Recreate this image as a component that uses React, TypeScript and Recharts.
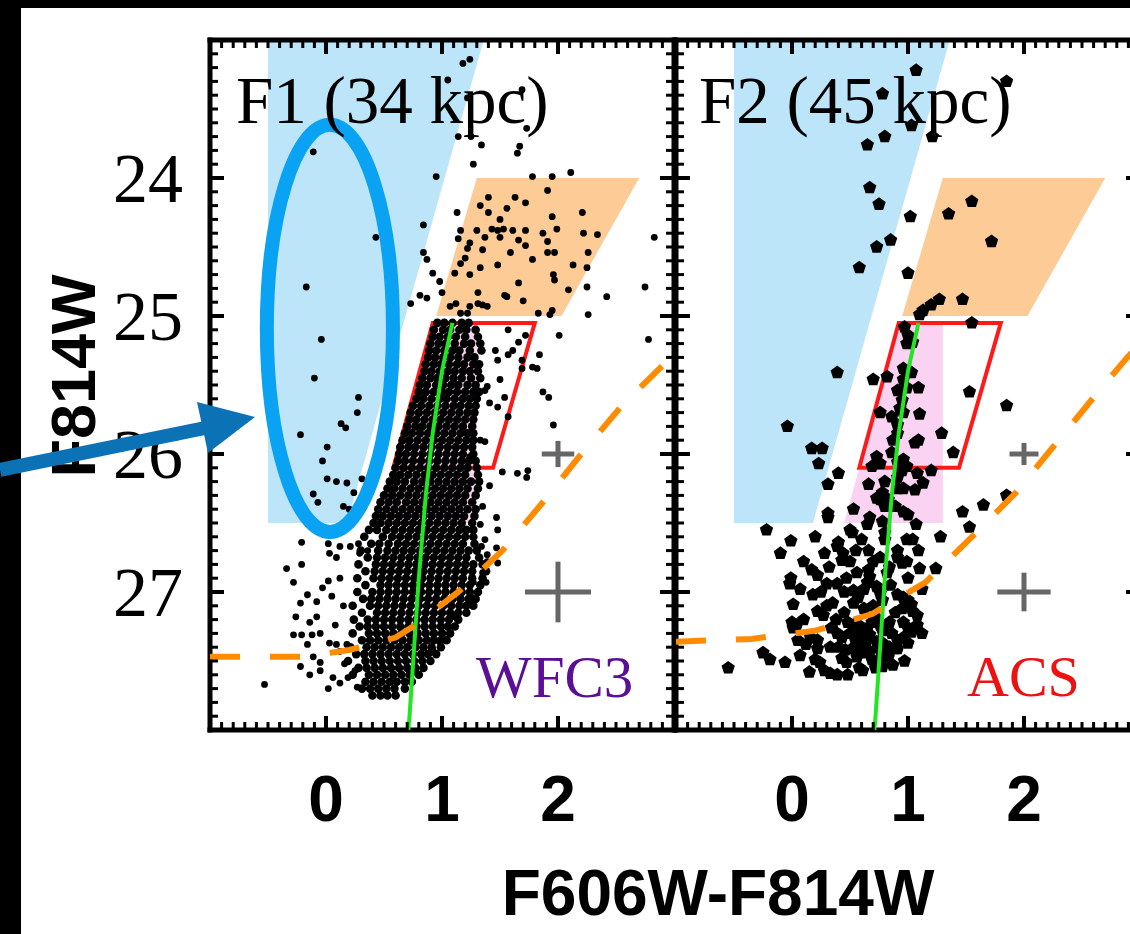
import React from 'react';
import { ScatterChart, Scatter, XAxis, YAxis, ReferenceArea, ErrorBar } from 'recharts';

type P = [number, number];

// ---------- axes ----------
const X_DOMAIN: [number, number] = [-1, 3];
const Y_DOMAIN: [number, number] = [23, 28];
const X_MAJOR = [0, 1, 2];
const X_TICK_LABELS = ['0', '1', '2'];
const Y_MAJOR = [24, 25, 26, 27];
const Y_TICK_LABELS = ['24', '25', '26', '27'];
const MINOR_STEP = 0.1;
const X_TICKS = Array.from({ length: 41 }, (_, i) => Math.round((X_DOMAIN[0] + i * MINOR_STEP) * 10) / 10);
const Y_TICKS = Array.from({ length: 51 }, (_, i) => Math.round((Y_DOMAIN[0] + i * MINOR_STEP) * 10) / 10);

const PANEL_TITLES = ['F1 (34 kpc)', 'F2 (45 kpc)'];
const CAMERAS = ['WFC3', 'ACS'];
const X_TITLE = 'F606W-F814W';
const Y_TITLE = 'F814W';

// ---------- selection regions (colour, magnitude) ----------
const blueRegion: P[] = [[-0.5, 23], [1.36, 23], [0.18, 26.5], [-0.5, 26.5]];
const orangeRegion: P[] = [[1.3, 24], [2.7, 24], [2.03, 25], [0.95, 25]];
const pinkRegion: P[] = [[0.92, 25.05], [1.3, 25.05], [1.3, 26.5], [0.45, 26.5]];
const redBox: P[] = [[0.92, 25.05], [1.8, 25.05], [1.44, 26.1], [0.58, 26.1]];
const ellipseBox: P[] = [[-0.51, 23.615], [0.577, 26.565]];

// fiducial isochrone (green)
const isochrone: P[] = [[1.09, 25.05], [1.0, 25.4], [0.92, 25.85], [0.86, 26.3], [0.8, 26.9], [0.76, 27.4], [0.72, 27.9], [0.71, 28.0]];

// completeness limits (orange dashed)
const completenessF1: P[] = [[-1, 27.47], [-0.2, 27.47], [0.2, 27.42], [0.6, 27.33], [0.75, 27.25], [1.14, 27.0], [1.52, 26.7], [1.87, 26.35], [2.2, 26.0], [2.55, 25.65], [2.9, 25.36], [3.0, 25.27]];
const completenessF2: P[] = [[-1, 27.36], [-0.35, 27.34], [0.2, 27.28], [0.69, 27.16], [1.15, 26.93], [1.54, 26.61], [1.93, 26.28], [2.26, 25.94], [2.6, 25.59], [2.89, 25.3], [3.0, 25.2]];

// typical photometric errors [colour, mag, colourErr, magErr]
const errorsF1 = [[2, 26, 0.14, 0.095], [2, 27, 0.285, 0.22]];
const errorsF2 = [[2, 26, 0.125, 0.08], [2, 27, 0.23, 0.14]];

// ---------- F1 stars ----------
const f1Sparse: P[] = [
  [-0.11, 23.81], [0.43, 24.43], [-0.17, 24.79], [1.18, 23.17], [1.24, 23.14], [1.05, 23.29], [1.22, 23.42], [1.69, 23.36],
  [1.73, 23.64], [1.14, 23.7], [1.25, 23.7], [1.34, 23.76], [1.67, 23.77], [1.65, 23.82], [1.27, 23.9], [0.95, 23.99],
  [1.78, 23.99], [1.95, 23.99], [2.11, 23.96], [1.91, 24.09], [1.4, 24.14], [1.63, 24.14], [1.72, 24.18], [1.33, 24.2],
  [1.13, 24.25], [1.4, 24.25], [1.56, 24.22], [2.21, 24.25], [1.95, 24.28], [0.84, 24.34], [1.5, 24.3], [1.16, 24.38],
  [1.3, 24.38], [1.43, 24.37], [1.48, 24.38], [1.53, 24.37], [1.61, 24.38], [1.72, 24.38], [1.87, 24.4], [1.99, 24.37],
  [2.22, 24.4], [2.34, 24.41], [2.83, 24.43], [1.14, 24.44], [1.24, 24.47], [1.37, 24.43], [1.5, 24.43], [1.66, 24.45],
  [1.72, 24.49], [1.91, 24.46], [1.22, 24.51], [1.35, 24.52], [1.59, 24.54], [1.91, 24.54], [1.97, 24.54], [2.26, 24.54],
  [0.84, 24.54], [0.87, 24.59], [1.2, 24.58], [1.78, 24.59], [2.13, 24.63], [1.16, 24.62], [1.33, 24.65], [1.48, 24.63],
  [2.25, 24.65], [0.92, 24.69], [1.11, 24.69], [1.24, 24.7], [1.96, 24.7], [1.97, 24.74], [2.75, 24.79], [0.98, 24.75],
  [1.66, 24.76], [2.09, 24.81], [2.42, 24.86], [0.81, 24.85], [1.0, 24.83], [1.31, 24.83], [1.54, 24.85], [1.56, 24.86],
  [2.25, 24.79], [0.73, 24.91], [0.87, 24.87], [1.12, 24.91], [1.22, 24.98], [1.24, 24.93], [1.31, 24.91], [1.35, 24.92],
  [1.7, 24.89], [1.83, 24.98], [1.95, 24.96], [1.93, 24.99], [2.26, 24.99], [1.07, 24.93], [1.16, 24.98], [1.39, 24.93],
  [2.01, 25.14], [2.78, 25.17], [1.84, 25.28], [1.82, 25.38], [1.87, 25.55], [1.92, 25.59], [1.96, 25.79], [1.52, 26.13],
  [1.65, 26.14], [1.73, 26.17], [1.74, 26.12], [1.41, 26.23], [1.47, 26.46], [1.48, 26.55], [1.48, 26.79], [1.35, 26.38],
  [1.37, 26.62], [1.39, 26.73], [1.33, 26.51], [1.34, 26.67], [1.57, 25.1], [1.66, 25.19], [1.72, 25.14], [1.46, 25.25],
  [1.48, 25.32], [1.57, 25.28], [1.61, 25.25], [1.69, 25.32], [1.78, 25.37], [1.69, 25.38], [1.5, 25.46], [1.39, 25.51],
  [1.37, 25.54], [1.54, 25.59], [1.41, 25.63], [1.48, 25.66], [1.57, 25.73], [1.33, 25.9], [1.37, 25.91], [1.24, 26.02],
  [1.47, 26.68], [1.39, 26.78], [1.35, 26.86], [1.38, 26.93], [1.27, 26.93], [1.26, 27.04], [1.24, 27.08], [1.09, 27.18],
  [0.98, 27.36], [0.92, 27.42], [0.77, 27.58],
  [-0.04, 25.17], [-0.1, 25.45], [0.28, 25.59], [0.27, 25.7], [0.13, 25.78], [0.17, 25.81], [-0.22, 25.86], [0.01, 25.95],
  [-0.03, 26.05], [0.01, 26.18], [0.09, 26.2], [0.18, 26.21], [0.31, 26.18], [-0.11, 26.29], [0.24, 26.28], [-0.07, 26.35],
  [0.15, 26.38], [0.2, 26.4], [-0.21, 26.64], [-0.34, 26.83], [-0.21, 26.8], [-0.28, 26.93], [0.02, 26.65], [0.12, 26.67],
  [0.03, 26.72], [0.09, 26.75], [0.21, 26.67], [0.28, 26.65], [0.29, 26.72], [0.36, 26.7], [-0.16, 27.02], [-0.22, 27.08],
  [-0.08, 27.07], [0.02, 26.92], [0.12, 26.9], [-0.03, 26.97], [-0.26, 27.18], [-0.08, 27.18], [-0.14, 27.22], [-0.28, 27.31],
  [-0.21, 27.31], [-0.12, 27.31], [-0.05, 27.3], [-0.16, 27.38], [0.03, 27.37], [0.09, 27.38], [0.12, 27.43], [0.18, 27.38],
  [-0.22, 27.54], [-0.11, 27.47], [-0.05, 27.51], [-0.14, 27.6], [-0.05, 27.57], [0.06, 27.62], [0.02, 27.7], [0.12, 27.66],
  [0.19, 27.62], [-0.53, 27.67], [0.25, 27.57], [0.27, 27.69], [0.15, 27.1], [0.08, 27.24], [0.16, 27.52], [0.05, 27.03],
];

// dense red-giant branch of F1: [magnitude, colours along that row]
const f1Rows: [number, number[]][] = [
  [25.05, [0.96, 1.02, 1.09, 1.17, 1.23]],
  [25.1, [0.93, 1.01, 1.07, 1.15, 1.21, 1.29]],
  [25.15, [0.92, 0.98, 1.05, 1.12, 1.2, 1.31]],
  [25.2, [0.9, 0.97, 1.03, 1.11, 1.19, 1.25, 1.33]],
  [25.25, [0.89, 0.95, 1.02, 1.09, 1.15, 1.24, 1.34]],
  [25.3, [0.88, 0.94, 1.01, 1.07, 1.14, 1.22, 1.28]],
  [25.35, [0.86, 0.93, 0.99, 1.06, 1.13, 1.19, 1.27, 1.32]],
  [25.4, [0.85, 0.91, 0.98, 1.05, 1.11, 1.18, 1.24, 1.31]],
  [25.45, [0.83, 0.9, 0.96, 1.03, 1.1, 1.17, 1.25, 1.33]],
  [25.5, [0.81, 0.87, 0.95, 1.01, 1.08, 1.14, 1.22, 1.29]],
  [25.55, [0.8, 0.86, 0.93, 1.0, 1.06, 1.13, 1.2, 1.27, 1.32]],
  [25.6, [0.78, 0.84, 0.91, 0.98, 1.04, 1.11, 1.18, 1.24, 1.3]],
  [25.65, [0.75, 0.82, 0.89, 0.96, 1.03, 1.1, 1.16, 1.23, 1.29]],
  [25.7, [0.73, 0.8, 0.87, 0.94, 1.01, 1.08, 1.15, 1.22, 1.28]],
  [25.75, [0.72, 0.78, 0.85, 0.92, 0.99, 1.06, 1.13, 1.2, 1.27]],
  [25.8, [0.7, 0.77, 0.83, 0.9, 0.97, 1.04, 1.11, 1.18, 1.26]],
  [25.85, [0.68, 0.74, 0.81, 0.88, 0.95, 1.02, 1.09, 1.16, 1.22, 1.27]],
  [25.9, [0.66, 0.72, 0.79, 0.86, 0.93, 1.0, 1.07, 1.14, 1.21, 1.27]],
  [25.95, [0.64, 0.71, 0.77, 0.84, 0.91, 0.98, 1.05, 1.12, 1.19, 1.26]],
  [26.0, [0.63, 0.69, 0.76, 0.83, 0.9, 0.97, 1.04, 1.11, 1.18, 1.27]],
  [26.05, [0.62, 0.68, 0.75, 0.82, 0.89, 0.96, 1.03, 1.1, 1.17, 1.23, 1.29]],
  [26.1, [0.6, 0.67, 0.74, 0.81, 0.88, 0.95, 1.02, 1.09, 1.16, 1.22, 1.3]],
  [26.15, [0.58, 0.64, 0.71, 0.78, 0.85, 0.92, 0.99, 1.06, 1.13, 1.2, 1.31]],
  [26.2, [0.55, 0.61, 0.68, 0.76, 0.83, 0.9, 0.97, 1.04, 1.11, 1.18, 1.25, 1.32]],
  [26.25, [0.53, 0.59, 0.66, 0.73, 0.8, 0.87, 0.94, 1.01, 1.08, 1.15, 1.22, 1.31]],
  [26.3, [0.5, 0.57, 0.64, 0.71, 0.78, 0.85, 0.92, 0.99, 1.06, 1.13, 1.2, 1.29]],
  [26.35, [0.47, 0.54, 0.61, 0.69, 0.76, 0.83, 0.9, 0.97, 1.04, 1.11, 1.18, 1.26]],
  [26.4, [0.45, 0.52, 0.59, 0.66, 0.73, 0.8, 0.87, 0.94, 1.01, 1.08, 1.15, 1.22, 1.29]],
  [26.45, [0.43, 0.49, 0.56, 0.63, 0.7, 0.77, 0.84, 0.91, 0.98, 1.05, 1.12, 1.19, 1.28]],
  [26.5, [0.41, 0.47, 0.54, 0.61, 0.68, 0.75, 0.82, 0.89, 0.96, 1.03, 1.1, 1.17, 1.26]],
  [26.55, [0.37, 0.44, 0.52, 0.59, 0.66, 0.73, 0.8, 0.87, 0.94, 1.01, 1.08, 1.15, 1.21, 1.27]],
  [26.6, [0.33, 0.49, 0.57, 0.64, 0.71, 0.78, 0.85, 0.92, 0.99, 1.06, 1.13, 1.2, 1.27]],
  [26.65, [0.39, 0.46, 0.54, 0.62, 0.69, 0.76, 0.83, 0.9, 0.97, 1.04, 1.11, 1.18, 1.28]],
  [26.7, [0.3, 0.45, 0.53, 0.6, 0.67, 0.74, 0.81, 0.88, 0.95, 1.02, 1.09, 1.16, 1.23, 1.3]],
  [26.75, [0.36, 0.44, 0.51, 0.58, 0.65, 0.72, 0.79, 0.86, 0.93, 1.0, 1.07, 1.14, 1.21, 1.32]],
  [26.8, [0.28, 0.43, 0.5, 0.57, 0.64, 0.71, 0.78, 0.85, 0.92, 0.99, 1.06, 1.13, 1.2, 1.27, 1.35]],
  [26.85, [0.34, 0.42, 0.49, 0.56, 0.63, 0.7, 0.77, 0.84, 0.91, 0.98, 1.05, 1.12, 1.19, 1.26, 1.38]],
  [26.9, [0.27, 0.41, 0.48, 0.55, 0.62, 0.69, 0.76, 0.83, 0.9, 0.97, 1.04, 1.11, 1.18, 1.26, 1.35]],
  [26.95, [0.34, 0.47, 0.54, 0.61, 0.68, 0.75, 0.82, 0.89, 0.96, 1.03, 1.1, 1.17, 1.24, 1.33]],
  [27.0, [0.27, 0.4, 0.47, 0.54, 0.61, 0.68, 0.75, 0.82, 0.89, 0.96, 1.03, 1.1, 1.17, 1.24, 1.31]],
  [27.05, [0.32, 0.39, 0.46, 0.53, 0.6, 0.67, 0.74, 0.81, 0.88, 0.95, 1.02, 1.09, 1.16, 1.23, 1.29]],
  [27.1, [0.23, 0.38, 0.45, 0.52, 0.59, 0.66, 0.73, 0.8, 0.87, 0.94, 1.01, 1.08, 1.15, 1.21, 1.27]],
  [27.15, [0.31, 0.44, 0.51, 0.58, 0.65, 0.72, 0.79, 0.86, 0.93, 1.0, 1.07, 1.14, 1.21]],
  [27.2, [0.24, 0.36, 0.43, 0.5, 0.57, 0.64, 0.71, 0.78, 0.85, 0.92, 0.99, 1.06, 1.14]],
  [27.25, [0.29, 0.36, 0.43, 0.5, 0.57, 0.64, 0.71, 0.78, 0.85, 0.92, 0.99, 1.05, 1.11]],
  [27.3, [0.23, 0.37, 0.44, 0.51, 0.58, 0.65, 0.72, 0.79, 0.86, 0.93, 1.0, 1.07]],
  [27.35, [0.31, 0.38, 0.45, 0.52, 0.59, 0.66, 0.73, 0.8, 0.87, 0.93, 0.99, 1.04]],
  [27.4, [0.21, 0.35, 0.42, 0.49, 0.56, 0.63, 0.7, 0.77, 0.84, 0.91, 0.99]],
  [27.45, [0.26, 0.33, 0.4, 0.47, 0.54, 0.61, 0.68, 0.75, 0.82, 0.88, 0.95]],
  [27.5, [0.19, 0.34, 0.41, 0.48, 0.55, 0.62, 0.69, 0.76, 0.83, 0.9]],
  [27.55, [0.28, 0.35, 0.42, 0.49, 0.56, 0.63, 0.7, 0.77, 0.84]],
  [27.6, [0.23, 0.37, 0.44, 0.51, 0.58, 0.65, 0.72, 0.8]],
  [27.65, [0.34, 0.41, 0.48, 0.55, 0.61, 0.68, 0.74]],
  [27.7, [0.31, 0.38, 0.45, 0.52, 0.59, 0.68]],
  [27.75, [0.4, 0.47, 0.53, 0.6]],
];

// ---------- F2 stars ----------
const f2Points: P[] = [
  [1.07, 23.22], [0.78, 23.39], [1.03, 23.62], [1.85, 23.3], [0.8, 23.7], [0.65, 23.76], [1.21, 23.7], [0.67, 24.07],
  [0.75, 24.19], [1.02, 24.28], [1.35, 24.26], [1.55, 24.17], [0.85, 24.45], [0.73, 24.5], [1.72, 24.46], [0.58, 24.65],
  [1.0, 24.69], [1.27, 24.88], [1.47, 24.88], [1.13, 24.96], [1.1, 24.99], [1.2, 24.92],
  [0.97, 25.08], [1.0, 25.14], [0.99, 25.2], [1.04, 25.19], [1.55, 25.05],
  [0.39, 25.41], [0.7, 25.46], [0.82, 25.44], [0.96, 25.38], [1.03, 25.41], [0.96, 25.46], [0.99, 25.52], [0.91, 25.54],
  [0.95, 25.61], [0.93, 25.67], [0.96, 25.7], [1.09, 25.52], [1.53, 25.55], [1.85, 25.65], [0.76, 25.7], [0.86, 25.73],
  [1.1, 25.71], [-0.04, 25.8], [0.91, 25.79], [0.91, 25.85], [0.87, 25.9], [1.29, 25.85], [1.06, 25.92], [1.09, 25.9],
  [0.17, 25.96], [0.26, 25.96], [0.23, 26.07], [0.86, 25.99], [1.39, 25.99], [0.73, 26.02], [0.76, 26.07], [0.91, 26.06],
  [0.96, 26.04], [0.99, 26.09], [0.95, 26.12], [0.91, 26.17], [0.69, 26.09], [1.08, 26.14], [1.2, 26.12], [0.4, 26.14],
  [0.31, 26.22], [0.66, 26.22], [0.8, 26.2], [0.91, 26.25], [0.96, 26.25], [1.06, 26.26], [1.13, 26.21], [0.78, 26.28],
  [0.76, 26.33], [0.73, 26.32], [0.83, 26.33], [0.8, 26.38], [0.89, 26.38], [0.96, 26.42], [1.0, 26.44], [0.53, 26.4],
  [0.31, 26.43], [0.31, 26.46], [0.67, 26.46], [0.65, 26.51], [0.78, 26.49], [0.8, 26.57], [1.07, 26.51], [0.5, 26.55],
  [0.52, 26.57], [-0.22, 26.55], [1.28, 26.6], [1.47, 26.42], [1.53, 26.53], [1.65, 26.37], [1.85, 26.3], [-0.01, 26.63],
  [-0.1, 26.72], [0.39, 26.67], [0.44, 26.72], [0.43, 26.77], [0.4, 26.64], [0.66, 26.7], [0.76, 26.75], [0.91, 26.7],
  [0.99, 26.62], [1.04, 26.62], [1.09, 26.7], [0.91, 26.75], [0.99, 26.78], [0.95, 26.79], [0.56, 26.86], [0.66, 26.84],
  [0.67, 26.89], [0.65, 26.93], [0.17, 26.84], [0.22, 26.88], [0.84, 26.82], [0.82, 26.86], [1.1, 26.83], [1.24, 26.83],
  [-0.01, 26.9], [-0.02, 26.94], [0.3, 26.94], [0.39, 26.94], [0.53, 26.99], [0.57, 27.04], [0.53, 27.08], [0.18, 27.02],
  [0.35, 27.08], [0.73, 26.96], [0.76, 27.01], [0.78, 27.06], [0.91, 27.02], [0.96, 27.04], [1.0, 27.06], [1.03, 27.09],
  [1.04, 27.14], [1.08, 27.17], [0.01, 27.09], [0.22, 27.14], [0.27, 27.17], [0.0, 27.22], [0.01, 27.26], [0.04, 27.24],
  [0.48, 27.22], [0.53, 27.24], [0.59, 27.25], [0.65, 27.26], [0.73, 27.19], [0.76, 27.24], [0.78, 27.28], [0.84, 27.22],
  [0.89, 27.15], [0.96, 27.22], [1.0, 27.26], [1.03, 27.29], [1.08, 27.24], [0.34, 27.26], [0.39, 27.3], [0.43, 27.33],
  [0.16, 27.33], [0.22, 27.35], [0.5, 27.3], [0.54, 27.33], [0.61, 27.31], [0.67, 27.31], [0.73, 27.36], [0.78, 27.37],
  [0.84, 27.4], [0.91, 27.41], [0.96, 27.33], [0.91, 27.35], [1.0, 27.37], [0.33, 27.4], [0.4, 27.4], [0.46, 27.42],
  [0.52, 27.41], [0.61, 27.41], [0.67, 27.43], [0.76, 27.42], [0.22, 27.41], [0.2, 27.49], [0.24, 27.51], [-0.25, 27.44],
  [-0.19, 27.49], [-0.06, 27.51], [0.07, 27.46], [0.43, 27.48], [0.47, 27.51], [0.56, 27.47], [0.6, 27.44], [0.76, 27.49],
  [0.78, 27.54], [0.87, 27.53], [0.89, 27.41], [0.28, 27.57], [0.39, 27.6], [0.33, 27.59], [0.61, 27.57], [0.72, 27.55],
  [-0.55, 27.55], [0.62, 27.12], [0.7, 27.1], [0.45, 27.15], [0.85, 26.95], [0.6, 26.62], [0.56, 27.36], [0.69, 27.49],
  [0.1, 27.2], [0.12, 27.38], [0.3, 27.1], [0.45, 27.0], [0.62, 26.98], [0.7, 26.78], [0.5, 26.78], [0.28, 26.72],
  [0.2, 26.6], [1.0, 26.9], [1.12, 26.98], [0.95, 27.12], [0.86, 27.3], [0.69, 27.22], [0.38, 27.2], [0.58, 27.55],
  [0.48, 27.6], [0.15, 27.58], [0.05, 27.35], [0.8, 26.62], [0.55, 26.7], [0.1, 26.78], [0.83, 27.47], [0.97, 27.5],
  [1.12, 27.3], [0.32, 26.82], [0.47, 26.9], [0.25, 27.0], [0.07, 26.98], [0.64, 27.36],
];

// ---------- helpers ----------
const toObj = (pts: P[]) => pts.map(([c, m]) => ({ c, m }));
const f1SparseData = toObj(f1Sparse);
const f1CoreData = f1Rows.flatMap(([m, cs]) => cs.map((c) => ({ c, m })));
const f2Data = toObj(f2Points);

const SERIF = "'Liberation Serif', 'Times New Roman', Times, serif";
const SANS = "'Liberation Sans', Arial, Helvetica, sans-serif";

const bbox = (verts: P[]) => {
  const cs = verts.map((v) => v[0]);
  const ms = verts.map((v) => v[1]);
  return [Math.min(...cs), Math.max(...cs), Math.min(...ms), Math.max(...ms)];
};

const polyShape = (verts: P[], style: any) => {
  const [c1, c2, m1, m2] = bbox(verts);
  return (p: any) => {
    const pts = verts
      .map(([c, m]) => {
        const px = p.x + ((c - c1) / (c2 - c1)) * p.width;
        const py = p.y + ((m - m1) / (m2 - m1)) * p.height;
        return `${px},${py}`;
      })
      .join(' ');
    return <polygon points={pts} {...style} />;
  };
};

const ellipseShape = (p: any) => (
  <ellipse
    cx={p.x + p.width / 2}
    cy={p.y + p.height / 2}
    rx={p.width / 2}
    ry={p.height / 2}
    fill="none"
    stroke="#0aa2f2"
    strokeWidth={14}
  />
);

const Empty = () => <g />;
const DotShape = (p: any) => <circle cx={p.cx} cy={p.cy} r={3.4} fill="#000" />;
const CoreDotShape = (p: any) => <circle cx={p.cx} cy={p.cy} r={4.3} fill="#000" />;
const PENT = [0, 1, 2, 3, 4].map((k) => {
  const a = -Math.PI / 2 + (k * 2 * Math.PI) / 5;
  return [Math.cos(a), Math.sin(a)];
});
const PentShape = (p: any) => (
  <polygon points={PENT.map(([dx, dy]) => `${p.cx + dx * 7},${p.cy + dy * 7}`).join(' ')} fill="#000" />
);

type Side = 'bottom' | 'top' | 'left' | 'right';
const makeTick = (side: Side, withLabels: boolean) => (props: any) => {
  const { x, y, payload } = props;
  const v = Number(payload.value);
  const major = Math.abs(v - Math.round(v)) < 1e-6;
  const len = major ? 14 : 8;
  let x2 = x;
  let y2 = y;
  if (side === 'bottom') y2 = y - len;
  if (side === 'top') y2 = y + len;
  if (side === 'left') x2 = x + len;
  if (side === 'right') x2 = x - len;
  let label: any = null;
  if (withLabels && major) {
    if (side === 'bottom') {
      const i = X_MAJOR.indexOf(Math.round(v));
      if (i >= 0)
        label = (
          <text x={x} y={y + 91} textAnchor="middle" fontFamily={SANS} fontWeight="bold" fontSize={64} fill="#000">
            {X_TICK_LABELS[i]}
          </text>
        );
    } else if (side === 'left') {
      const i = Y_MAJOR.indexOf(Math.round(v));
      if (i >= 0)
        label = (
          <text x={x - 27} y={y + 24} textAnchor="end" fontFamily={SERIF} fontSize={70} fill="#000">
            {Y_TICK_LABELS[i]}
          </text>
        );
    }
  }
  return (
    <g>
      <line x1={x} y1={y} x2={x2} y2={y2} stroke="#000" strokeWidth={major ? 4 : 3} />
      {label}
    </g>
  );
};

const AXIS_LINE = { stroke: '#000', strokeWidth: 5, strokeLinecap: 'square' };

type PanelProps = {
  plotLeft: number;
  layers: { data: { c: number; m: number }[]; shape: any }[];
  completeness: P[];
  errors: number[][];
  showYLabels: boolean;
  showEllipse: boolean;
};

const PLOT_TOP = 40;
const PLOT_BOTTOM = 730;
const PLOT_WIDTH = 464;
const SVG_H = 934;
const AXIS_SIZE = 1;

function Panel({ plotLeft, layers, completeness, errors, showYLabels, showEllipse }: PanelProps) {
  const W = plotLeft + PLOT_WIDTH + 30;
  const common = { xAxisId: 'b', yAxisId: 'l' };
  const region = (verts: P[], style: any, z: number) => {
    const [c1, c2, m1, m2] = bbox(verts);
    return (
      <ReferenceArea
        {...common}
        x1={c1}
        x2={c2}
        y1={m1}
        y2={m2}
        ifOverflow="visible"
        shape={polyShape(verts, style)}
        zIndex={z}
      />
    );
  };
  const errData = errors.map(([c, m, ec, em]) => ({ c, m, ec, em }));
  const axisCommon = {
    type: 'number' as const,
    allowDataOverflow: true,
    interval: 0 as const,
    tickSize: 0,
    tickMargin: 0,
    tickLine: false,
    axisLine: AXIS_LINE,
  };
  return (
    <div style={{ position: 'absolute', left: 0, top: 0 }}>
      <ScatterChart
        width={W}
        height={SVG_H}
        margin={{
          top: PLOT_TOP - AXIS_SIZE,
          left: plotLeft - AXIS_SIZE,
          right: 30 - AXIS_SIZE,
          bottom: SVG_H - PLOT_BOTTOM - AXIS_SIZE,
        }}
      >
        <XAxis
          {...axisCommon}
          xAxisId="b"
          dataKey="c"
          orientation="bottom"
          domain={X_DOMAIN}
          ticks={X_TICKS}
          height={AXIS_SIZE}
          tick={makeTick('bottom', true)}
        />
        <XAxis
          {...axisCommon}
          xAxisId="t"
          dataKey="c"
          orientation="top"
          domain={X_DOMAIN}
          ticks={X_TICKS}
          height={AXIS_SIZE}
          tick={makeTick('top', false)}
        />
        <YAxis
          {...axisCommon}
          yAxisId="l"
          dataKey="m"
          orientation="left"
          domain={Y_DOMAIN}
          reversed
          ticks={Y_TICKS}
          width={AXIS_SIZE}
          tick={makeTick('left', showYLabels)}
        />
        <YAxis
          {...axisCommon}
          yAxisId="r"
          dataKey="m"
          orientation="right"
          domain={Y_DOMAIN}
          reversed
          ticks={Y_TICKS}
          width={AXIS_SIZE}
          tick={makeTick('right', false)}
        />
        <Scatter xAxisId="t" yAxisId="r" data={[{ c: 0, m: 25 }]} shape={Empty} isAnimationActive={false} />
        {region(blueRegion, { fill: '#bde5fa' }, 1)}
        {region(orangeRegion, { fill: '#fdcb95' }, 2)}
        {region(pinkRegion, { fill: '#fad3f2' }, 3)}
        {region(redBox, { fill: 'none', stroke: '#ff1a1a', strokeWidth: 4 }, 4)}
        {layers.map((l, i) => (
          <Scatter key={i} {...common} data={l.data} shape={l.shape} isAnimationActive={false} zIndex={600} />
        ))}
        <Scatter
          {...common}
          data={toObj(isochrone)}
          line={{ stroke: '#22e622', strokeWidth: 4 }}
          lineType="joint"
          shape={Empty}
          isAnimationActive={false}
          zIndex={610}
        />
        <Scatter
          {...common}
          data={toObj(completeness)}
          line={{ stroke: '#ff8c00', strokeWidth: 6, strokeDasharray: '30 30' }}
          lineType="joint"
          shape={Empty}
          isAnimationActive={false}
          zIndex={620}
        />
        <Scatter {...common} data={errData} shape={Empty} isAnimationActive={false} zIndex={630}>
          <ErrorBar dataKey="ec" direction="x" width={0} stroke="#666" strokeWidth={5} />
          <ErrorBar dataKey="em" direction="y" width={0} stroke="#666" strokeWidth={5} />
        </Scatter>
        {showEllipse && (
          <ReferenceArea
            {...common}
            x1={ellipseBox[0][0]}
            x2={ellipseBox[1][0]}
            y1={ellipseBox[0][1]}
            y2={ellipseBox[1][1]}
            ifOverflow="visible"
            shape={ellipseShape}
            zIndex={700}
          />
        )}
      </ScatterChart>
    </div>
  );
}

export default function App() {
  return (
    <div
      style={{
        position: 'absolute',
        left: 0,
        top: 0,
        width: 1130,
        height: 934,
        overflow: 'hidden',
        background: '#fff',
      }}
    >
      <Panel
        plotLeft={210}
        layers={[
          { data: f1CoreData, shape: CoreDotShape },
          { data: f1SparseData, shape: DotShape },
        ]}
        completeness={completenessF1}
        errors={errorsF1}
        showYLabels={true}
        showEllipse={true}
      />
      <Panel
        plotLeft={676}
        layers={[{ data: f2Data, shape: PentShape }]}
        completeness={completenessF2}
        errors={errorsF2}
        showYLabels={false}
        showEllipse={false}
      />
      <svg
        width={1130}
        height={934}
        style={{ position: 'absolute', left: 0, top: 0, pointerEvents: 'none' }}
      >
        <rect x={0} y={0} width={1130} height={8} fill="#000" />
        <rect x={0} y={0} width={21} height={934} fill="#000" />
        <text x={236} y={123} fontFamily={SERIF} fontSize={67} fill="#000">
          {PANEL_TITLES[0]}
        </text>
        <text x={699} y={123} fontFamily={SERIF} fontSize={67} fill="#000">
          {PANEL_TITLES[1]}
        </text>
        <text x={476} y={697} fontFamily={SERIF} fontSize={59} fill="#5b0e96">
          {CAMERAS[0]}
        </text>
        <text x={967} y={696} fontFamily={SERIF} fontSize={58} fill="#ee1111">
          {CAMERAS[1]}
        </text>
        <text
          x={95}
          y={376}
          transform="rotate(-90 95 376)"
          textAnchor="middle"
          fontFamily={SANS}
          fontWeight="bold"
          fontSize={63}
          fill="#000"
        >
          {Y_TITLE}
        </text>
        <text x={718} y={915} textAnchor="middle" fontFamily={SANS} fontWeight="bold" fontSize={64} fill="#000">
          {X_TITLE}
        </text>
        <line x1={0} y1={470} x2={205} y2={428} stroke="#0b72b6" strokeWidth={14} />
        <polygon points="255,417 197,402 208,453" fill="#0b72b6" />
      </svg>
    </div>
  );
}
